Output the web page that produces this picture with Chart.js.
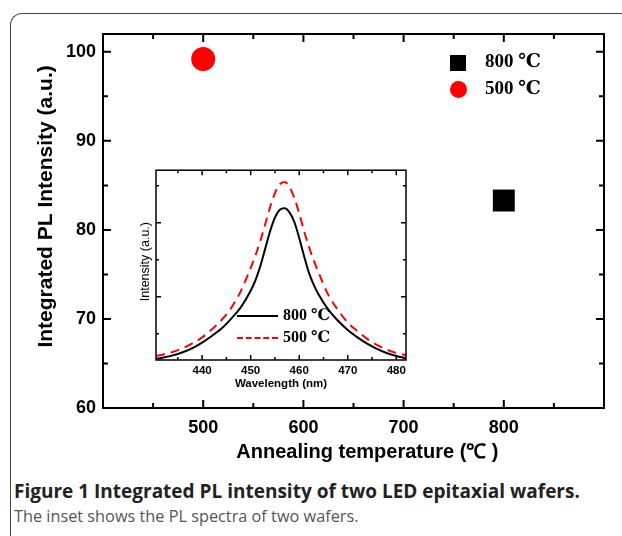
<!DOCTYPE html>
<html>
<head>
<meta charset="utf-8">
<script src="https://cdn.jsdelivr.net/npm/chart.js@4.4.1/dist/chart.umd.min.js"></script>
<style>
  html, body { margin: 0; padding: 0; background: #fff; }
  body { width: 622px; height: 536px; position: relative; overflow: hidden; }
  #frame {
    position: absolute; left: 10px; top: 13px; width: 660px; height: 600px;
    border-left: 1.5px solid #444; border-top: 1.5px solid #444;
    border-top-left-radius: 12px;
  }
  #mainWrap { position: absolute; left: 0; top: 0; width: 622px; height: 470px; }
  #insetWrap { position: absolute; left: 126px; top: 160px; width: 290px; height: 235px; }
  .leg { position: absolute; font-family: "Liberation Serif", "DejaVu Serif", serif; font-weight: bold; color: #000; white-space: nowrap; }
  .leg span.sym { display: inline-block; vertical-align: middle; }
  .caption { position: absolute; left: 14px; font-family: "Open Sans", "Noto Sans", sans-serif; white-space: nowrap; }
</style>
</head>
<body>
<div id="frame"></div>
<div id="mainWrap"><canvas id="mainChart" width="622" height="470"></canvas></div>
<div id="insetWrap"><canvas id="insetChart" width="290" height="235"></canvas></div>

<div class="leg" style="left:450px; top:50px; font-size:19px; line-height:22px;">
  <span class="sym" style="width:16px;height:16px;background:#000;margin-right:19px;"></span>800 ℃
</div>
<div class="leg" style="left:450px; top:77px; font-size:19px; line-height:22px;">
  <span class="sym" style="width:17px;height:17px;background:#ff0000;border-radius:50%;margin-right:18px;"></span>500 ℃
</div>

<div class="leg" style="left:237px; top:305px; font-size:16px; line-height:20px;">
  <span class="sym" style="width:41px;border-top:2px solid #000;margin-right:5px;"></span>800 ℃
</div>
<div class="leg" style="left:237px; top:327px; font-size:16px; line-height:20px;">
  <span class="sym" style="width:41px;border-top:2px dashed #ff0000;margin-right:5px;"></span>500 ℃
</div>

<div class="caption" style="top:478px; font-size:19px; font-weight:bold; color:#222;">Figure 1 Integrated PL intensity of two LED epitaxial wafers.</div>
<div class="caption" style="top:505px; font-size:16.3px; color:#555;">The inset shows the PL spectra of two wafers.</div>

<script>
// -------------------- DADOS --------------------
const annealSeries = ['800 ℃', '500 ℃'];
const annealTemps = [800, 500];
const integratedPL = [83.3, 99.2];
const xTickLabels = [500, 600, 700, 800];
const yTickLabels = [60, 70, 80, 90, 100];

// espectros do inset (intensidade em unidades arbitrárias)
const wavelengths = [430.5, 432, 434, 436, 438, 440, 442, 444, 446, 448, 450, 451, 452, 453, 454, 455, 456, 457, 458, 459, 460, 461, 462, 463, 464, 466, 468, 470, 472, 474, 476, 478, 480, 482];
const spectrum800 = [-0.68, -0.645, -0.585, -0.5, -0.39, -0.24, -0.06, 0.14, 0.41, 0.72, 1.16, 1.45, 1.83, 2.3, 2.77, 3.14, 3.35, 3.39, 3.28, 3.02, 2.59, 2.1, 1.65, 1.32, 1.06, 0.65, 0.35, 0.1, -0.1, -0.27, -0.41, -0.52, -0.6, -0.66];
const spectrum500 = [-0.6, -0.56, -0.49, -0.39, -0.26, -0.1, 0.12, 0.37, 0.7, 1.16, 1.78, 2.12, 2.51, 2.96, 3.42, 3.8, 4.04, 4.1, 3.96, 3.67, 3.25, 2.78, 2.35, 1.98, 1.65, 1.05, 0.64, 0.3, 0.07, -0.14, -0.3, -0.43, -0.52, -0.58];
const insetXLabels = [440, 450, 460, 470, 480];

// -------------------- MOLDURA E TICKS --------------------
function framePlugin(id, lw, majorLen, minorLen, isMajorX, isMajorY) {
  return {
    id: id,
    afterDraw(chart) {
      const { ctx, chartArea: a, scales } = chart;
      ctx.save();
      ctx.strokeStyle = '#000';
      ctx.lineWidth = lw;
      ctx.strokeRect(a.left, a.top, a.right - a.left, a.bottom - a.top);
      scales.x.ticks.forEach(t => {
        const px = scales.x.getPixelForValue(t.value);
        if (px <= a.left + 1 || px >= a.right - 1) return;
        const len = isMajorX(t.value) ? majorLen : minorLen;
        ctx.beginPath();
        ctx.moveTo(px, a.bottom); ctx.lineTo(px, a.bottom - len);
        ctx.moveTo(px, a.top); ctx.lineTo(px, a.top + len);
        ctx.stroke();
      });
      scales.y.ticks.forEach(t => {
        const py = scales.y.getPixelForValue(t.value);
        if (py <= a.top + 1 || py >= a.bottom - 1) return;
        const len = isMajorY(t.value) ? majorLen : minorLen;
        ctx.beginPath();
        ctx.moveTo(a.left, py); ctx.lineTo(a.left + len, py);
        ctx.moveTo(a.right, py); ctx.lineTo(a.right - len, py);
        ctx.stroke();
      });
      ctx.restore();
    }
  };
}

function keepSteps(step) {
  return scale => {
    scale.ticks = scale.ticks.filter(t => Math.abs(t.value / step - Math.round(t.value / step)) < 1e-6);
  };
}

// -------------------- GRÁFICO PRINCIPAL --------------------
const mainFont = { family: '"Liberation Sans", Arial, sans-serif', weight: 'bold' };

new Chart(document.getElementById('mainChart').getContext('2d'), {
  type: 'scatter',
  data: {
    datasets: annealSeries.map((name, i) => ({
      label: name,
      data: [{ x: annealTemps[i], y: integratedPL[i] }],
      pointStyle: i === 0 ? 'rect' : 'circle',
      pointRadius: i === 0 ? 15.5 : 12,
      backgroundColor: i === 0 ? '#000' : '#ff0000',
      borderColor: i === 0 ? '#000' : '#ff0000',
      borderWidth: 0,
    }))
  },
  options: {
    responsive: false,
    animation: false,
    layout: { padding: { top: 34, right: 18, left: 0, bottom: 0 } },
    plugins: { legend: { display: false }, tooltip: { enabled: false } },
    scales: {
      x: {
        type: 'linear', min: 400, max: 900,
        afterBuildTicks: keepSteps(50),
        afterFit: s => { s.height = 62; },
        grid: { display: false, drawTicks: false },
        border: { display: false },
        ticks: {
          stepSize: 50, includeBounds: false, padding: 9, maxRotation: 0, autoSkip: false,
          color: '#000', font: { ...mainFont, size: 18 },
          callback: v => xTickLabels.includes(v) ? String(v) : ''
        },
        title: {
          display: true, text: '     Annealing temperature (℃ )', color: '#000',
          font: { ...mainFont, size: 20 }, padding: { top: 0, bottom: 6 }
        }
      },
      y: {
        type: 'linear', min: 60, max: 102,
        afterBuildTicks: keepSteps(5),
        afterFit: s => { s.width = 103; },
        grid: { display: false, drawTicks: false },
        border: { display: false },
        ticks: {
          stepSize: 5, includeBounds: false, padding: 7, autoSkip: false,
          color: '#000', font: { ...mainFont, size: 18 },
          callback: v => yTickLabels.includes(v) ? String(v) : ''
        },
        title: {
          display: true, text: '     Integrated PL Intensity (a.u.)', color: '#000',
          font: { ...mainFont, size: 21 }, padding: { top: 34, bottom: 0 }
        }
      }
    }
  },
  plugins: [framePlugin('mainFrame', 2, 8, 5, v => v % 100 === 0, v => v % 10 === 0)]
});

// -------------------- INSET (ESPECTROS) --------------------
new Chart(document.getElementById('insetChart').getContext('2d'), {
  type: 'line',
  data: {
    datasets: [
      {
        label: '800 ℃',
        data: wavelengths.map((w, i) => ({ x: w, y: spectrum800[i] })),
        borderColor: '#000', borderWidth: 2, pointRadius: 0,
        cubicInterpolationMode: 'monotone', fill: false
      },
      {
        label: '500 ℃',
        data: wavelengths.map((w, i) => ({ x: w, y: spectrum500[i] })),
        borderColor: '#ff0000', borderWidth: 2, borderDash: [9, 6], pointRadius: 0,
        cubicInterpolationMode: 'monotone', fill: false
      }
    ]
  },
  options: {
    responsive: false,
    animation: false,
    layout: { padding: { top: 5, right: 10, left: 0, bottom: 0 } },
    plugins: { legend: { display: false }, tooltip: { enabled: false } },
    scales: {
      x: {
        type: 'linear', min: 430.5, max: 482,
        afterBuildTicks: keepSteps(5),
        afterFit: s => { s.height = 35; },
        grid: { display: false, drawTicks: false },
        border: { display: false },
        ticks: {
          stepSize: 5, includeBounds: false, padding: 4, maxRotation: 0, autoSkip: false,
          color: '#000', font: { ...mainFont, size: 11.5 },
          callback: v => insetXLabels.includes(v) ? String(v) : ''
        },
        title: {
          display: true, text: 'Wavelength (nm)', color: '#000',
          font: { ...mainFont, size: 11.5 }, padding: { top: 0, bottom: 4 }
        }
      },
      y: {
        type: 'linear', min: -0.71, max: 4.42,
        afterBuildTicks: keepSteps(1),
        afterFit: s => { s.width = 30; },
        grid: { display: false, drawTicks: false },
        border: { display: false },
        ticks: { stepSize: 1, includeBounds: false, display: true, callback: () => '' },
        title: {
          display: true, text: '  Intensity (a.u.)', color: '#000',
          font: { family: '"Liberation Sans", Arial, sans-serif', size: 12.5 },
          padding: { top: 12, bottom: 0 }
        }
      }
    }
  },
  plugins: [framePlugin('insetFrame', 1.5, 5, 3, v => v % 10 === 0, v => v === 1 || v === 3)]
});
</script>
</body>
</html>
